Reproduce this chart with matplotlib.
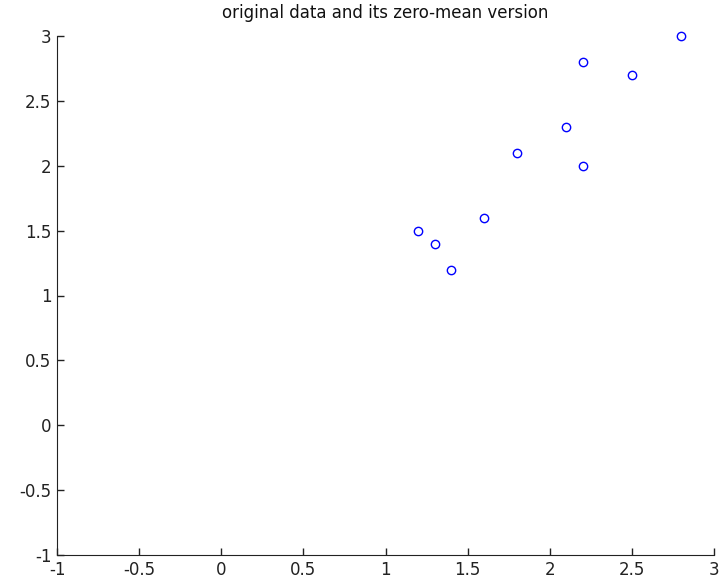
import matplotlib
matplotlib.use('Agg')
import matplotlib.pyplot as plt

# points
x_vals = [1.2, 1.3, 1.4, 1.6, 1.8, 2.1, 2.2, 2.2, 2.5, 2.8]
y_vals = [1.5, 1.4, 1.2, 1.6, 2.1, 2.3, 2.0, 2.8, 2.7, 3.0]
ticks = [-1, -0.5, 0, 0.5, 1, 1.5, 2, 2.5, 3]
tick_labels = ['-1', '-0.5', '0', '0.5', '1', '1.5', '2', '2.5', '3']
title_text = 'original data and its zero-mean version'

plt.rcParams['font.family'] = ['DejaVu Sans']

fig = plt.figure(figsize=(7.28, 5.8), dpi=100)
ax = fig.add_axes([57 / 728, 1 - 555 / 580, (714 - 57) / 728, (555 - 36) / 580])

ax.plot(x_vals, y_vals, 'o', mfc='none', mec=(0, 0, 1), ms=6, mew=1, clip_on=False)

ax.set_xlim(-1, 3)
ax.set_ylim(-1, 3)
ax.set_xticks(ticks)
ax.set_xticklabels(tick_labels)
ax.set_yticks(ticks)
ax.set_yticklabels(tick_labels)
ax.tick_params(direction='in', length=5, width=1, labelsize=12, colors='#222222', pad=4)
for side in ['top', 'right']:
    ax.spines[side].set_visible(False)
for side in ['left', 'bottom']:
    ax.spines[side].set_color('#222222')
ax.set_title(title_text, fontsize=12, pad=13, color='#111111')

fig.savefig('out.png', dpi=100)
